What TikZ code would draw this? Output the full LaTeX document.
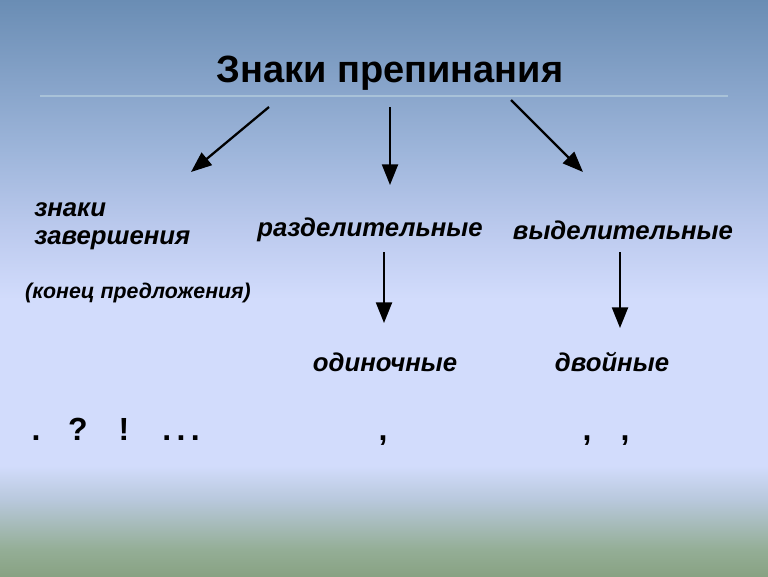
\documentclass[tikz,border=0pt]{standalone}
\usepackage{fontspec}
\setmainfont{Liberation Sans}
\usetikzlibrary{arrows.meta}

\definecolor{bgTop}{HTML}{6A8DB4}
\definecolor{bgUpper}{HTML}{9DB5DA}
\definecolor{bgMid}{HTML}{BCCAEE}
\definecolor{bgLight}{HTML}{D2DCFC}
\definecolor{bgLow}{HTML}{B8C8DC}
\definecolor{bgGreen}{HTML}{94AE96}
\definecolor{bgBottom}{HTML}{88A283}
\definecolor{ruleLine}{HTML}{A9C2D8}

\pgfdeclareverticalshading{slide}{100bp}{
  color(0bp)=(bgBottom); color(25bp)=(bgBottom);
  color(27.3bp)=(bgGreen); color(31.6bp)=(bgLow);
  color(34.6bp)=(bgLight); color(49bp)=(bgLight);
  color(55bp)=(bgMid); color(62bp)=(bgUpper);
  color(75bp)=(bgTop); color(100bp)=(bgTop)}

\tikzset{
  arrow/.style={line width=1.7pt,-{Triangle[width=12pt,length=15.5pt]}},
  punct/.style={font=\fontsize{24}{28}\selectfont\bfseries, inner sep=0pt, anchor=base}
}

\begin{document}
\begin{tikzpicture}[x=0.75pt, y=-0.75pt]
        \tikzstyle{title}=[font=\fontsize{28.5}{32}\selectfont\bfseries, inner sep=0pt]
        \tikzstyle{kind}=[font=\fontsize{19.3}{21}\selectfont\bfseries\itshape, inner sep=0pt]
        \tikzstyle{note}=[font=\fontsize{16}{19}\selectfont\bfseries\itshape, inner sep=0pt]

        \shade[shading=slide] (0,0) rectangle (768,576);
        \draw[ruleLine, line width=1.1pt] (40,96) -- (728,96);

        \node[title] (T) at (390,73) {Знаки препинания};

        \node[kind, anchor=west, align=left] (K_1) at (34,226) {знаки\\завершения};
        \node[kind] (K_2) at (370,230) {разделительные};
        \node[kind] (K_3) at (623,230) {выделительные};
        \node[note] (N_1) at (138,293) {(конец предложения)};
        \node[kind] (S_1) at (385,362) {одиночные};
        \node[kind] (S_2) at (612,362) {двойные};

        \node[punct] (M_1) at (36,440) {.};
        \node[punct] (M_2) at (78,440) {?};
        \node[punct] (M_3) at (124,440) {!};
        \node[punct] (M_4) at (181,440) {.\,.\,.};
        \node[punct] (M_5) at (383,440) {,};
        \node[punct] (M_6) at (587,440) {,};
        \node[punct] (M_7) at (625,440) {,};

        \coordinate (A_1) at (269,107);
        \coordinate (A_2) at (390,107);
        \coordinate (A_3) at (511,100);
        \coordinate (B_1) at (191,172);
        \coordinate (B_2) at (390,185);
        \coordinate (B_3) at (583,172);
        \coordinate (C_1) at (384,252);
        \coordinate (C_2) at (620,252);
        \coordinate (D_1) at (384,323);
        \coordinate (D_2) at (620,328);

        \draw[arrow] (A_1) -- (B_1);
        \draw[arrow] (A_2) -- (B_2);
        \draw[arrow] (A_3) -- (B_3);
        \draw[arrow] (C_1) -- (D_1);
        \draw[arrow] (C_2) -- (D_2);
\end{tikzpicture}
\end{document}
